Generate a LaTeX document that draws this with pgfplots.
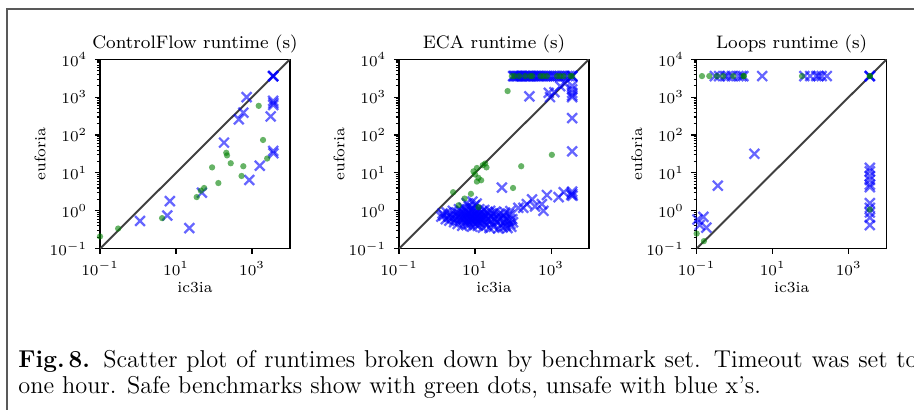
\documentclass[border=0pt]{standalone}
\usepackage{pgfplots}
\pgfplotsset{compat=1.18}
\definecolor{mblue}{RGB}{0,0,255}
\definecolor{mgreen}{RGB}{0,128,0}
\tikzset{
  bx/.style={only marks, mark=x, mark size=3.2pt, color=mblue, mark options={line width=1.05pt, opacity=0.6}},
  gd/.style={only marks, mark=*, mark size=1.45pt, color=mgreen, mark options={fill=mgreen, fill opacity=0.6, draw opacity=0}},
  dg/.style={black!75, line width=0.9pt},
}
\begin{document}
\begin{tikzpicture}
\path[use as bounding box] (0pt,0pt) rectangle (421.8pt,189.2pt);
\begin{scope}
\clip (0pt,0pt) rectangle (421.8pt,189.2pt);
\draw[line width=0.7pt, black!65] (3.23pt,0pt) -- (3.23pt,185.06pt) -- (421.8pt,185.06pt);
\node[anchor=base west, inner sep=0pt, font=\fontsize{11.25}{13}\selectfont] at (8.3pt,19.4pt) {\makebox[415pt][s]{\textbf{Fig.\,8.} Scatter plot of runtimes broken down by benchmark set. Timeout was set to}};
\node[anchor=base west, inner sep=0pt, font=\fontsize{11.25}{13}\selectfont] at (8.3pt,7.4pt) {one hour. Safe benchmarks show with green dots, unsafe with blue x's.};
\end{scope}

% ---------- ControlFlow ----------
\begin{axis}[
    at={(46.15pt,74.44pt)}, anchor=south west,
    xmode=log, ymode=log,
    xmin=0.1, xmax=10000, ymin=0.1, ymax=10000,
    scale only axis, width=87.7pt, height=87.4pt,
    xtick={0.1,10,1000}, minor xtick={},
    ytick={0.1,1,10,100,1000,10000},
    minor ytick={0.2,0.3,0.4,0.5,0.6,0.7,0.8,0.9,2,3,4,5,6,7,8,9,20,30,40,50,60,70,80,90,200,300,400,500,600,700,800,900,2000,3000,4000,5000,6000,7000,8000,9000},
    tick align=outside, xtick pos=bottom, ytick pos=left,
    major tick length=2.4pt, minor tick length=1.4pt,
    tick style={black, line width=0.5pt},
    axis line style={line width=0.55pt},
    tick label style={font=\fontsize{6.9}{8}\selectfont},
    label style={font=\fontsize{7.1}{8.5}\selectfont},
    xlabel={ic3ia}, ylabel={euforia},
    xlabel style={at={(axis description cs:0.5,-0.229)}, anchor=base},
    ylabel style={at={(axis description cs:-0.287,0.5)}, anchor=base},
    title style={font=\fontsize{8.35}{10}\selectfont, at={(axis description cs:0.5,0.987)}, anchor=base, yshift=0pt},
    title={ControlFlow runtime (s)}]
\addplot[dg, forget plot] coordinates {(0.1,0.1) (10000,10000)};
\addplot[bx] coordinates {
(3600,3600) (3600,3600) (3600,3600) (720,1000) (3600,800) (3650,700) (3600,620)
(590,390) (450,260) (3100,310) (183,63) (3600,38) (3650,33) (1600,15.5)
(850,6.5) (48,3.0) (6.9,1.8) (5.9,0.75) (1.13,0.54) (22.4,0.35)
};
\addplot[gd] coordinates {
(0.1,0.21) (0.3,0.34) (4.3,0.64) (35,2.3) (45,3.4) (55,4.0) (130,5.4) (89,14)
(275,18) (210,34) (220,29) (590,15) (530,8.3) (1500,590) (1950,74) (2500,24)
};
\end{axis}

% ---------- ECA ----------
\begin{axis}[
    at={(184.14pt,74.44pt)}, anchor=south west,
    xmode=log, ymode=log,
    xmin=0.1, xmax=10000, ymin=0.1, ymax=10000,
    scale only axis, width=87.7pt, height=87.4pt,
    xtick={0.1,10,1000}, minor xtick={},
    ytick={0.1,1,10,100,1000,10000},
    minor ytick={0.2,0.3,0.4,0.5,0.6,0.7,0.8,0.9,2,3,4,5,6,7,8,9,20,30,40,50,60,70,80,90,200,300,400,500,600,700,800,900,2000,3000,4000,5000,6000,7000,8000,9000},
    tick align=outside, xtick pos=bottom, ytick pos=left,
    major tick length=2.4pt, minor tick length=1.4pt,
    tick style={black, line width=0.5pt},
    axis line style={line width=0.55pt},
    tick label style={font=\fontsize{6.9}{8}\selectfont},
    label style={font=\fontsize{7.1}{8.5}\selectfont},
    xlabel={ic3ia}, ylabel={euforia},
    xlabel style={at={(axis description cs:0.5,-0.229)}, anchor=base},
    ylabel style={at={(axis description cs:-0.287,0.5)}, anchor=base},
    title style={font=\fontsize{8.35}{10}\selectfont, at={(axis description cs:0.5,0.987)}, anchor=base, yshift=0pt},
    title={ECA runtime (s)}]
\addplot[dg, forget plot] coordinates {(0.1,0.1) (10000,10000)};
\addplot[bx] coordinates {
(100,3600) (105,3600) (112,3600) (120,3600) (128,3600) (135,3600) (145,3600) (155,3600)
(165,3600) (180,3600) (195,3600) (210,3600) (230,3600) (250,3600) (270,3600) (290,3600)
(320,3600) (350,3600) (380,3600) (420,3600) (460,3600) (500,3600) (560,3600) (620,3600)
(700,3600) (780,3600) (880,3600) (1000,3600) (1150,3600) (1300,3600) (1500,3600) (1700,3600)
(2000,3600) (2300,3600) (2700,3600) (3100,3600) (3600,3600) (3600,3600) (3600,3600)
(3600,2000) (3600,1600) (3600,1300) (3600,1100) (3600,1000) (1740,1950) (2300,2300)
(270,1050) (870,1300) (1230,1350) (940,1000) (3600,280) (3600,37)
(51,4.1) (138,1.2) (85,0.98) (316,2.0) (380,1.3) (575,1.5) (780,2.6) (630,1.0)
(1580,2.3) (2150,3.1) (3600,2.8) (3700,2.5) (3600,3.2) (186,1.2) (230,1.5) (3400,2.6)
(1.3,0.7) (1.4,0.85) (6,1.6) (8.5,1.75) (11,1.55)
(1.5,0.75) (1.7,0.6) (1.8,0.9) (2.0,0.7) (2.1,0.55) (2.3,0.8) (2.5,0.65) (2.6,1.0)
(2.8,0.5) (3.0,0.75) (3.1,0.6) (3.3,0.9) (3.5,0.45) (3.6,0.7) (3.8,1.1) (4.0,0.55)
(4.1,0.8) (4.3,0.65) (4.5,0.95) (4.6,0.4) (4.8,0.72) (5.0,0.58) (5.1,1.2) (5.3,0.85)
(5.5,0.5) (5.6,0.68) (5.8,1.0) (6.0,0.42) (6.1,0.78) (6.3,0.6) (6.5,0.9) (6.7,0.52)
(6.9,1.3) (7.0,0.7) (7.2,0.45) (7.4,0.82) (7.6,0.62) (7.8,1.05) (8.0,0.55) (8.2,0.74)
(8.4,0.38) (8.6,0.95) (8.8,0.66) (9.0,1.15) (9.2,0.5) (9.4,0.8) (9.6,0.6) (9.8,1.4)
(10,0.72) (10.3,0.45) (10.6,0.88) (10.9,0.57) (11.2,1.0) (11.5,0.68) (11.8,0.4) (12.1,0.78)
(12.5,0.52) (12.9,1.1) (13.3,0.62) (13.7,0.85) (14.1,0.47) (14.6,0.7) (15.0,0.95) (15.5,0.58)
(16,0.36) (16.5,0.8) (17,0.65) (17.5,1.05) (18,0.5) (19,0.74) (20,0.42) (21,0.9)
(22,0.6) (23,0.78) (24,0.35) (25,1.0) (26,0.55) (27,0.7) (28,0.45) (30,0.85)
(31,0.38) (33,0.62) (35,0.95) (37,0.5) (39,0.72) (41,0.34) (43,0.58) (45,0.85)
(48,0.42) (50,0.65) (53,0.36) (56,0.75) (59,0.5) (62,0.9) (65,0.4) (68,0.62)
(72,0.35) (76,0.55) (80,0.8) (85,0.45) (90,0.38) (95,0.6) (100,0.5)
};
\addplot[gd] coordinates {
(93,3600) (110,3600) (145,3600) (209,3600) (282,3600) (324,3600) (525,3600) (631,3600)
(776,3600) (1445,3600) (1738,3600) (2138,3600) (3236,3600) (3600,3600)
(72,1450) (1050,30) (164,15) (100,4.0) (18.5,17.7) (16,16) (20,14) (11.2,13.5)
(9.1,11) (10,9.1) (14.5,6.4) (11.2,5.9) (12.3,7.4) (7.8,2.8) (2.65,3.1) (5.3,2.1)
(3.7,1.4) (12.3,1.25)
};
\end{axis}

% ---------- Loops ----------
\begin{axis}[
    at={(321.5pt,74.44pt)}, anchor=south west,
    xmode=log, ymode=log,
    xmin=0.1, xmax=10000, ymin=0.1, ymax=10000,
    scale only axis, width=87.7pt, height=87.4pt,
    xtick={0.1,10,1000}, minor xtick={},
    ytick={0.1,1,10,100,1000,10000},
    minor ytick={0.2,0.3,0.4,0.5,0.6,0.7,0.8,0.9,2,3,4,5,6,7,8,9,20,30,40,50,60,70,80,90,200,300,400,500,600,700,800,900,2000,3000,4000,5000,6000,7000,8000,9000},
    tick align=outside, xtick pos=bottom, ytick pos=left,
    major tick length=2.4pt, minor tick length=1.4pt,
    tick style={black, line width=0.5pt},
    axis line style={line width=0.55pt},
    tick label style={font=\fontsize{6.9}{8}\selectfont},
    label style={font=\fontsize{7.1}{8.5}\selectfont},
    xlabel={ic3ia}, ylabel={euforia},
    xlabel style={at={(axis description cs:0.5,-0.229)}, anchor=base},
    ylabel style={at={(axis description cs:-0.287,0.5)}, anchor=base},
    title style={font=\fontsize{8.35}{10}\selectfont, at={(axis description cs:0.5,0.987)}, anchor=base, yshift=0pt},
    title={Loops runtime (s)}]
\addplot[dg, forget plot] coordinates {(0.1,0.1) (10000,10000)};
\addplot[bx] coordinates {
(0.30,3600) (0.39,3600) (0.56,3600) (0.67,3600) (0.84,3600) (1.25,3600) (1.5,3600) (1.7,3600)
(5.3,3600) (68,3600) (97,3600) (140,3600) (160,3600) (195,3600) (265,3600)
(3600,3600) (3600,3600) (3600,3600)
(3.3,32) (0.36,4.6) (0.15,0.69) (0.105,0.59) (0.18,0.36) (0.12,0.42)
(3600,13.6) (3600,11) (3600,8.2) (3600,6.5) (3600,4.9) (3600,4.2) (3600,1.6)
(3600,1.2) (3600,0.9) (3600,0.66) (3600,0.42)
};
\addplot[gd] coordinates {
(0.138,3600) (0.215,3600) (0.34,3600) (0.5,3600) (0.92,3600) (1.7,3600) (1.75,3600)
(59,3600) (3600,3600) (3600,3600)
(0.1,0.25) (0.155,0.158) (3600,1.08)
};
\end{axis}
\end{tikzpicture}
\end{document}
